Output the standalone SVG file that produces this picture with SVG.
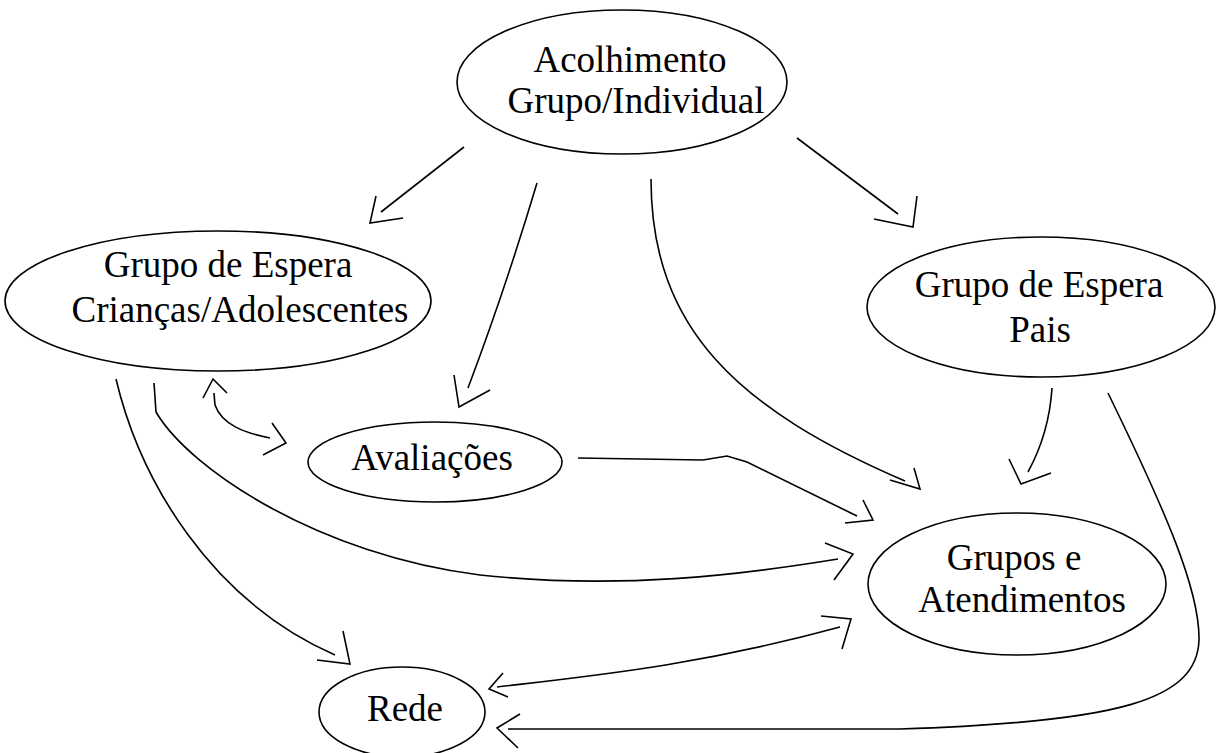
<svg xmlns="http://www.w3.org/2000/svg" width="1217" height="753" viewBox="0 0 1217 753">
<style>
.node{fill:#fff;stroke:#000;stroke-width:1.6}
.lbl{font-family:"Liberation Serif","Times New Roman",serif;font-size:37px;fill:#000;text-anchor:middle}
.edge{fill:none;stroke:#000;stroke-width:1.6}
.head{fill:none;stroke:#000;stroke-width:1.6;stroke-linejoin:miter}
</style>
<rect width="1217" height="753" fill="#fff"/>
<g id="n-acolhimento">
<ellipse class="node" cx="622" cy="82" rx="165" ry="72"/>
<text class="lbl" x="630" y="72">Acolhimento</text>
<text class="lbl" x="636" y="113">Grupo/Individual</text>
</g>
<g id="n-espera-criancas">
<ellipse class="node" cx="218" cy="301" rx="213" ry="70"/>
<text class="lbl" x="228" y="277">Grupo de Espera</text>
<text class="lbl" x="240" y="322">Crianças/Adolescentes</text>
</g>
<g id="n-espera-pais">
<ellipse class="node" cx="1041" cy="307" rx="174" ry="70"/>
<text class="lbl" x="1039" y="297">Grupo de Espera</text>
<text class="lbl" x="1040" y="342">Pais</text>
</g>
<g id="n-avaliacoes">
<ellipse class="node" cx="435" cy="462" rx="127" ry="40"/>
<text class="lbl" x="432" y="470">Avaliações</text>
</g>
<g id="n-grupos">
<ellipse class="node" cx="1017" cy="584" rx="149" ry="71"/>
<text class="lbl" x="1014" y="570">Grupos e</text>
<text class="lbl" x="1022" y="612">Atendimentos</text>
</g>
<g id="n-rede">
<ellipse class="node" cx="402" cy="712" rx="83" ry="45"/>
<text class="lbl" x="405" y="721">Rede</text>
</g>
<g id="connectors">
<!-- Acolhimento -> Grupo de Espera Criancas -->
<path class="edge" d="M464,147 L381,212"/>
<polyline class="head" points="376,196 370,223 403,218"/>
<!-- Acolhimento -> Avaliacoes -->
<path class="edge" d="M537,183 Q505,290 468,388"/>
<polyline class="head" points="454,375 459,407 490,390"/>
<!-- Acolhimento -> Grupos e Atendimentos -->
<path class="edge" d="M651,179 C651,330 740,410 905,481"/>
<polyline class="head" points="914,468 920,489 890,480"/>
<!-- Acolhimento -> Grupo de Espera Pais -->
<path class="edge" d="M797,138 L898,214"/>
<polyline class="head" points="917,196 913,227 874,219"/>
<!-- Grupo de Espera Criancas <-> Avaliacoes -->
<path class="edge" d="M214,393 L215,405 C222,425 245,433 270,438"/>
<polyline class="head" points="203,398 213,379 227,393"/>
<polyline class="head" points="272,423 286,443 263,455"/>
<!-- Grupo de Espera Criancas -> Grupos e Atendimentos -->
<path class="edge" d="M154,383 L156,412 C190,470 320,555 480,575 C620,590 740,575 838,559"/>
<polyline class="head" points="825,543 853,554 834,580"/>
<!-- Grupo de Espera Criancas -> Rede -->
<path class="edge" d="M116,379 C140,480 210,600 335,655"/>
<polyline class="head" points="343,631 350,664 317,660"/>
<!-- Avaliacoes -> Grupos e Atendimentos -->
<path class="edge" d="M578,458 L703,460 L727,456 L747,462 L857,516"/>
<polyline class="head" points="863,500 873,520 845,523"/>
<!-- Grupo de Espera Pais -> Grupos e Atendimentos -->
<path class="edge" d="M1052,388 C1050,420 1040,450 1028,472"/>
<polyline class="head" points="1009,459 1021,484 1051,473"/>
<!-- Grupo de Espera Pais -> Rede -->
<path class="edge" d="M1108,393 C1165,510 1200,590 1199,640 C1197,700 1120,722 900,729 L508,729"/>
<polyline class="head" points="520,714 497,728 518,748"/>
<!-- Rede <-> Grupos e Atendimentos -->
<path class="edge" d="M497,687 C600,675 700,665 840,627"/>
<polyline class="head" points="503,673 489,689 508,697"/>
<polyline class="head" points="821,616 851,619 842,649"/>
</g>
</svg>
